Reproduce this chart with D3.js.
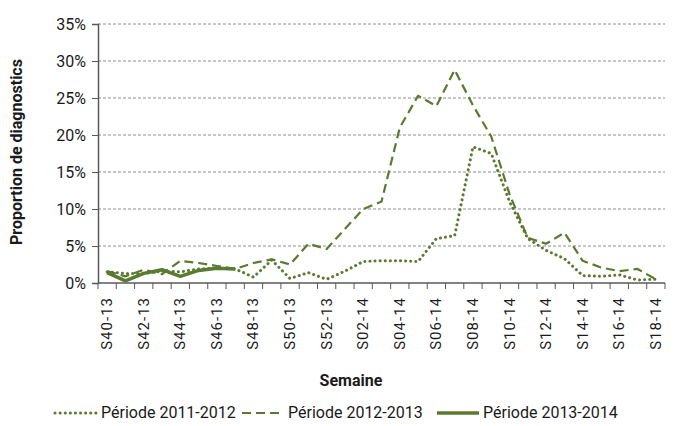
<!DOCTYPE html>
<meta charset="utf-8">
<script src="https://d3js.org/d3.v7.min.js"></script>
<style>
  body { margin: 0; background: #fff; }
  text { font-family: "Liberation Sans Narrow", "Roboto", sans-serif; fill: #1a1a1a; }
</style>
<svg id="chart" width="673" height="426"></svg>
<script>

// weeks S40-13 .. S18-14
const semaines = ["S40-13","S41-13","S42-13","S43-13","S44-13","S45-13","S46-13","S47-13","S48-13","S49-13",
  "S50-13","S51-13","S52-13","S01-14","S02-14","S03-14","S04-14","S05-14","S06-14","S07-14",
  "S08-14","S09-14","S10-14","S11-14","S12-14","S13-14","S14-14","S15-14","S16-14","S17-14","S18-14"];

// proportion de diagnostics (%)
const periode2011 = [1.5,1.3,1.3,1.6,1.5,1.9,2.0,1.9,0.8,3.1,0.6,1.4,0.5,1.6,2.9,3.0,3.0,2.9,6.0,6.4,
  18.4,17.5,11.0,6.0,4.4,3.3,1.0,0.9,1.1,0.4,0.5];
const periode2012 = [1.6,0.9,1.8,1.2,3.0,2.7,2.3,1.9,2.7,3.2,2.5,5.3,4.6,7.3,10.0,11.0,21.0,25.3,23.9,28.8,
  24.0,19.8,12.0,6.1,5.3,6.8,3.0,2.1,1.6,1.9,0.5];
const periode2013 = [1.4,0.3,1.3,1.8,0.9,1.7,2.0,1.9];

const yTicks = [0,5,10,15,20,25,30,35];

const series = [
  {name: "Période 2011-2012", values: periode2011, dash: "0.1,5", width: 3, cap: "round"},
  {name: "Période 2012-2013", values: periode2012, dash: "9,5", width: 2.2, cap: "butt"},
  {name: "Période 2013-2014", values: periode2013, dash: null, width: 3.5, cap: "butt"}
];

const color = "#5a7a30";

const svg = d3.select("#chart");
const margin = {left: 98, right: 8, top: 24, bottom: 143};
const width = 673 - margin.left - margin.right,
      height = 426 - margin.top - margin.bottom;

const g = svg.append("g").attr("transform", `translate(${margin.left},${margin.top})`);

const x = d3.scaleBand().domain(semaines).range([0, width]);
const y = d3.scaleLinear().domain([0, 35]).range([height, 0]);

// grid
g.append("g").selectAll("line")
  .data(yTicks.filter(d => d > 0))
  .enter().append("line")
    .attr("x1", 0).attr("x2", width)
    .attr("y1", d => y(d)).attr("y2", d => y(d))
    .style("stroke", "#8c8c8c")
    .style("stroke-width", 1)
    .style("stroke-dasharray", "3,2");

// y axis
const yAxis = g.append("g")
  .call(d3.axisLeft(y).tickValues(yTicks).tickSize(6).tickFormat(d => d + "%"));
yAxis.selectAll("text").style("font-size", "16px").attr("x", -12);
yAxis.select(".domain").style("stroke", "#595959").style("stroke-width", 1.5);
yAxis.selectAll(".tick line").style("stroke", "#595959");

// x axis: ticks between categories
const xAxis = g.append("g").attr("transform", `translate(0,${height})`);
xAxis.append("line")
  .attr("x1", 0).attr("x2", width)
  .style("stroke", "#595959").style("stroke-width", 1.5);
xAxis.selectAll(".tk")
  .data(semaines.concat(["end"]))
  .enter().append("line")
    .attr("x1", (d, i) => i * x.step()).attr("x2", (d, i) => i * x.step())
    .attr("y1", 0).attr("y2", 6)
    .style("stroke", "#595959");
xAxis.selectAll(".lbl")
  .data(semaines.filter((d, i) => i % 2 === 0))
  .enter().append("text")
    .attr("transform", d => `translate(${x(d) + x.bandwidth() / 2 + 5},14) rotate(-90)`)
    .attr("text-anchor", "end")
    .style("font-size", "15px")
    .style("letter-spacing", "1px")
    .text(d => d);

// lines
const line = d3.line()
  .x((d, i) => x(semaines[i]) + x.bandwidth() / 2)
  .y(d => y(d));

series.forEach(s => {
  g.append("path")
    .attr("d", line(s.values))
    .style("fill", "none")
    .style("stroke", color)
    .style("stroke-width", s.width)
    .style("stroke-linecap", s.cap)
    .style("stroke-linejoin", "round")
    .style("stroke-dasharray", s.dash);
});

// axis titles
svg.append("text")
  .attr("transform", "translate(22,152) rotate(-90)")
  .attr("text-anchor", "middle")
  .style("font-size", "16px").style("font-weight", "bold")
  .text("Proportion de diagnostics");

svg.append("text")
  .attr("x", 351).attr("y", 386)
  .attr("text-anchor", "middle")
  .style("font-size", "16px").style("font-weight", "bold")
  .text("Semaine");

// legend
const legendX = [55, 242, 437];
const legend = svg.append("g").attr("transform", "translate(0,413)");
series.forEach((s, i) => {
  legend.append("line")
    .attr("x1", legendX[i]).attr("x2", legendX[i] + 42)
    .style("stroke", color)
    .style("stroke-width", s.width)
    .style("stroke-linecap", s.cap)
    .style("stroke-dasharray", s.dash);
  legend.append("text")
    .attr("x", legendX[i] + 46).attr("y", 5)
    .style("font-size", "16px")
    .text(s.name);
});

</script>
